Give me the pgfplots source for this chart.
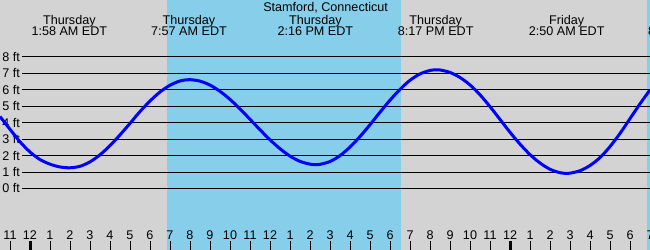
\documentclass[border=0pt]{standalone}
\usepackage{fontspec}
\setmainfont{Liberation Sans}
\usepackage{pgfplots}
\usepackage{pgfplotstable}
\pgfplotsset{compat=1.18}
\definecolor{bggray}{RGB}{211,211,211}
\definecolor{sky}{RGB}{135,206,235}
\pgfplotstableread{
h v
-1.5 4.38
-1.0 3.60
-0.5 2.84
0.0 2.22
0.5 1.76
1.0 1.48
1.5 1.31
2.0 1.26
2.5 1.35
3.0 1.62
3.5 2.05
4.0 2.61
4.5 3.26
5.0 3.96
5.5 4.68
6.0 5.32
6.5 5.87
7.0 6.28
7.5 6.54
7.97 6.62
8.5 6.53
9.0 6.29
9.5 5.91
10.0 5.42
10.5 4.84
11.0 4.21
11.5 3.57
12.0 2.96
12.5 2.42
13.0 1.97
13.5 1.65
14.0 1.48
14.3 1.45
14.5 1.47
15.0 1.64
15.5 2.00
16.0 2.52
16.5 3.16
17.0 3.88
17.5 4.64
18.0 5.37
18.5 6.03
19.0 6.58
19.5 6.97
20.0 7.18
20.3 7.22
20.5 7.21
21.0 7.06
21.5 6.75
22.0 6.30
22.5 5.70
23.0 4.98
23.5 4.20
24.0 3.42
24.5 2.70
25.0 2.06
25.5 1.55
26.0 1.17
26.5 0.96
26.83 0.92
27.0 0.93
27.5 1.08
28.0 1.40
28.5 1.88
29.0 2.55
29.5 3.35
30.0 4.25
30.5 5.15
31.0 6.00
}\tide
\begin{document}
\begin{tikzpicture}[font=\fontsize{12.6}{13}\selectfont]
\begin{axis}[name=ax, width=650pt, height=250pt, scale only axis,
  xmin=-1.5, xmax=31, ymin=-3.741, ymax=11.466,
  axis line style={draw=none},
  axis background/.style={fill=bggray},
  ytick=\empty,
  xtick={-1,0,...,31},
  xticklabels={11,12,1,2,3,4,5,6,7,8,9,10,11,12,1,2,3,4,5,6,7,8,9,10,11,12,1,2,3,4,5,6,7},
  tick align=inside, major tick length=9pt,
  xtick pos=bottom,
  tick style={black, line width=1pt},
  xticklabel style={anchor=base, yshift=10pt, font=\fontsize{12.6}{13}\selectfont},
  extra x ticks={0,24}, extra x tick labels={},
  extra x tick style={tick style={black, line width=3pt}},
  /pgf/number format/assume math mode=true,
  axis on top,
]
\addplot[fill=sky, draw=none, forget plot] coordinates {(6.83,-3.741) (18.55,-3.741) (18.55,11.466) (6.83,11.466)};
\addplot[fill=sky, draw=none, forget plot] coordinates {(30.85,-3.741) (31.5,-3.741) (31.5,11.466) (30.85,11.466)};
\pgfplotsinvokeforeach{0,...,8}{
  \addplot[black, line width=1pt, forget plot] coordinates {(-0.4,#1) (31.5,#1)};
  \node[anchor=east, inner sep=0pt] at (axis cs:-0.5,#1) {#1 ft};
}
\addplot[color={rgb,255:red,0;green,0;blue,255}, line width=3pt, smooth] table[x=h, y=v] {\tide};
\node[anchor=base] at (axis cs:14.78,10.736) {Stamford, Connecticut};
\node[anchor=base] at (axis cs:1.967,9.988) {Thursday};
\node[anchor=base] at (axis cs:1.967,9.294) {1:58 AM EDT};
\node[anchor=base] at (axis cs:7.95,9.988) {Thursday};
\node[anchor=base] at (axis cs:7.95,9.294) {7:57 AM EDT};
\node[anchor=base] at (axis cs:14.267,9.988) {Thursday};
\node[anchor=base] at (axis cs:14.267,9.294) {2:16 PM EDT};
\node[anchor=base] at (axis cs:20.283,9.988) {Thursday};
\node[anchor=base] at (axis cs:20.283,9.294) {8:17 PM EDT};
\node[anchor=base] at (axis cs:26.833,9.988) {Friday};
\node[anchor=base] at (axis cs:26.833,9.294) {2:50 AM EDT};
\node[anchor=base] at (axis cs:32.8,9.988) {Friday};
\node[anchor=base] at (axis cs:32.8,9.294) {8:48 AM EDT};
\end{axis}
\pgfresetboundingbox
\path (ax.south west) rectangle (ax.north east);
\end{tikzpicture}
\end{document}
